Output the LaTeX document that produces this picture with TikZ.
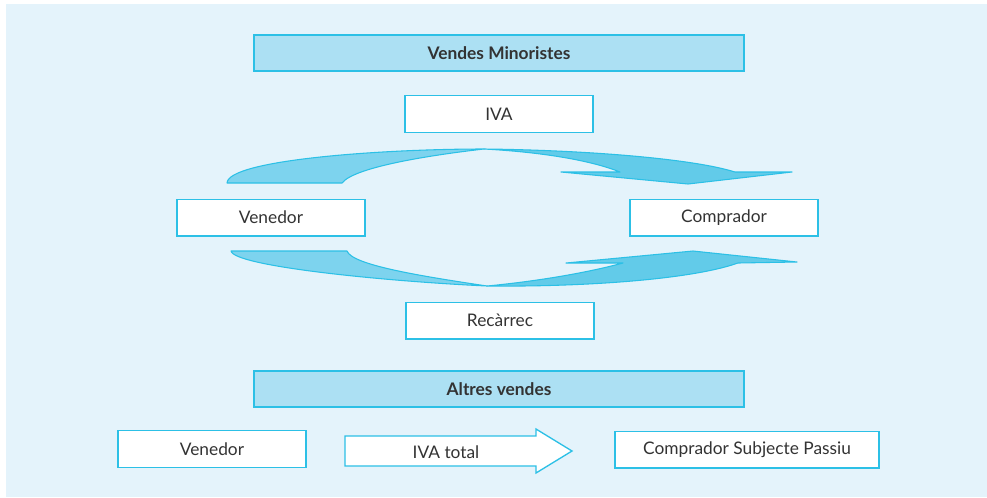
\documentclass[tikz,border=0pt]{standalone}
\usepackage{fontspec}
\setmainfont{Lato}
\definecolor{bgblue}{HTML}{E4F3FB}
\definecolor{cyanline}{HTML}{2CC0E6}
\definecolor{headfill}{HTML}{ACE0F3}
\definecolor{bandlight}{HTML}{7DD3EE}
\definecolor{banddark}{HTML}{62CBE9}
\definecolor{txt}{HTML}{333333}

\begin{document}
\begin{tikzpicture}[x=0.75pt,y=-0.75pt,
  box/.style={draw=cyanline, line width=1pt, fill=white, minimum width=141pt,
    minimum height=27.5pt, inner sep=0pt, text=txt, font=\fontsize{13}{15}\selectfont},
  header/.style={box, fill=headfill, minimum width=367.5pt, minimum height=27pt,
    font=\fontsize{13}{15}\selectfont\bfseries},
  band/.style={draw=cyanline, line width=0.8pt, line join=round},
  lbl/.style={inner sep=0pt, text=txt, font=\fontsize{13}{15}\selectfont}]

% canvas and background panel
\useasboundingbox (0,0) rectangle (987,497);
\fill[bgblue] (6,4) rectangle (987,497);

% --- retail sales ---
\node[header] (hdrA) at (499,53) {Vendes Minoristes};
\node[box] (iva) at (499,114) {IVA};
\node[box] (venA) at (271,217.5) {Venedor};
\node[box] (comA) at (724,217.5) {Comprador};
\node[box] (rec) at (500,320.5) {Recàrrec};

% upper twisted band (seller -> buyer)
\path[band, fill=banddark] (484,149) .. controls (580,150) and (690,158) .. (735,172)
  -- (792,172) -- (688,184) -- (561,172) -- (620,172)
  .. controls (590,160) and (540,152) .. (484,149) -- cycle;
\path[band, fill=bandlight] (227,183) .. controls (228,160) and (380,149) .. (484,149)
  .. controls (440,154) and (355,166) .. (342,183) -- cycle;

% lower twisted band (seller -> buyer)
\path[band, fill=banddark] (487,286) .. controls (580,287) and (690,280) .. (738,263)
  -- (797,262) -- (693,251) -- (566,263) -- (623,263)
  .. controls (590,272) and (540,281) .. (487,286) -- cycle;
\path[band, fill=bandlight] (231,251) -- (347,251)
  .. controls (352,265) and (420,276) .. (487,286)
  .. controls (380,281) and (234,266) .. (231,251) -- cycle;

% --- other sales ---
\node[header] (hdrB) at (499,389) {Altres vendes};
\node[box] (venB) at (212,449) {Venedor};
\node[box, minimum width=198pt] (csp) at (747,449.5) {Comprador Subjecte Passiu};

% block arrow carrying the full VAT
\path[draw=cyanline, line width=1pt, fill=white, line join=miter]
  (345,436) -- (536,436) -- (536,429) -- (572,451) -- (536,473) -- (536,466)
  -- (345,466) -- cycle;
\node[lbl] (ivat) at (446,452) {IVA total};
\end{tikzpicture}
\end{document}
